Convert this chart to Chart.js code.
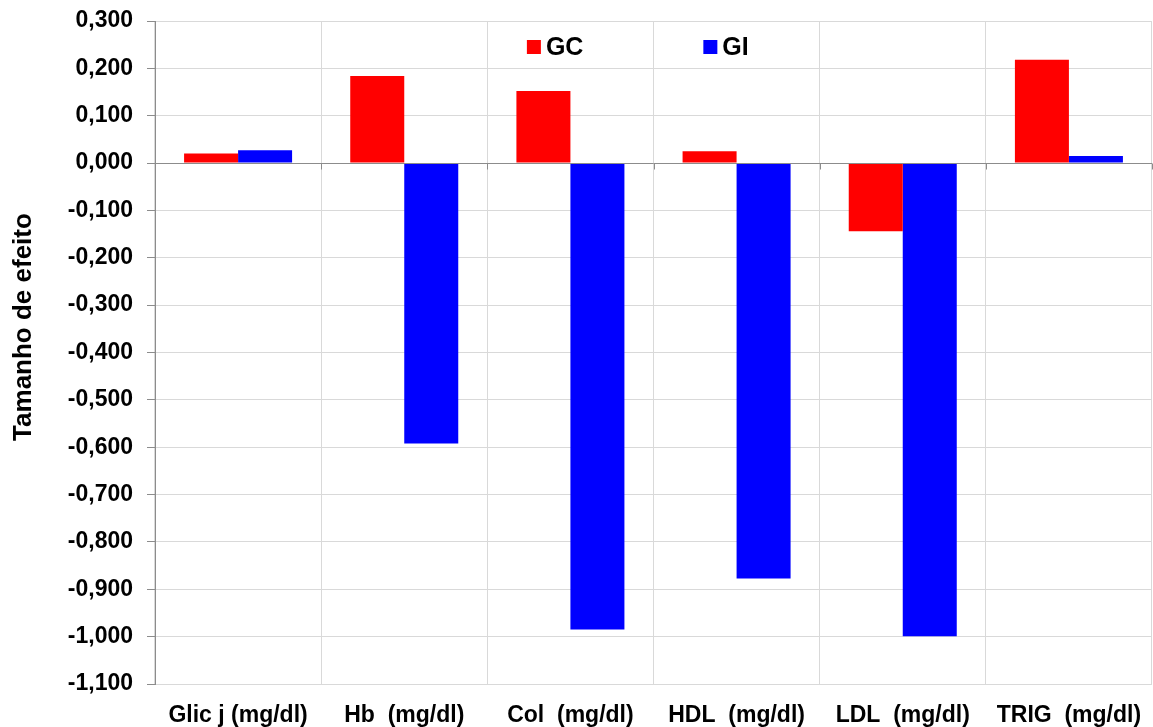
<!DOCTYPE html>
<html>
<head>
<meta charset="utf-8">
<title>Tamanho de efeito</title>
<script src="https://cdn.jsdelivr.net/npm/chart.js@4.4.1/dist/chart.umd.min.js"></script>
<style>
  html, body { margin: 0; padding: 0; background: #ffffff; }
  #wrap { width: 1153px; height: 727px; }
</style>
</head>
<body>
<div id="wrap"><canvas id="c" width="1153" height="727"></canvas></div>
<script>
// Categories and effect sizes per group
const categories = ['Glic j (mg/dl)', 'Hb  (mg/dl)', 'Col  (mg/dl)', 'HDL  (mg/dl)', 'LDL  (mg/dl)', 'TRIG  (mg/dl)'];
const gcValues = [0.020, 0.184, 0.152, 0.025, -0.144, 0.218];
const giValues = [0.027, -0.592, -0.985, -0.877, -0.999, 0.015];
const seriesNames = ['GC', 'GI'];
const seriesColors = ['#ff0000', '#0000ff'];
const yAxisTitle = 'Tamanho de efeito';

const FONT = '"Liberation Sans", Arial, Helvetica, sans-serif';

// Format ticks with a decimal comma and three decimals
function fmt(v) {
  const r = Math.round(v * 1000) / 1000;
  return r.toFixed(3).replace('.', ',');
}

// Zero axis line with small tick marks at category boundaries
const zeroAxis = {
  id: 'zeroAxis',
  afterDatasetsDraw(chart) {
    const { ctx, chartArea, scales } = chart;
    const y0 = Math.round(scales.y.getPixelForValue(0)) + 0.5;
    ctx.save();
    ctx.strokeStyle = '#8c8c8c';
    ctx.lineWidth = 1;
    ctx.beginPath();
    ctx.moveTo(chartArea.left, y0);
    ctx.lineTo(chartArea.right, y0);
    const n = categories.length;
    const step = (chartArea.right - chartArea.left) / n;
    for (let i = 0; i <= n; i++) {
      const x = Math.round(chartArea.left + i * step) + 0.5;
      ctx.moveTo(x, y0);
      ctx.lineTo(x, y0 + 6);
    }
    ctx.stroke();
    ctx.restore();
  }
};

// Legend drawn inside the plot area
const innerLegend = {
  id: 'innerLegend',
  afterDraw(chart) {
    const { ctx, chartArea } = chart;
    const w = chartArea.right - chartArea.left;
    const starts = [chartArea.left + w * 0.373, chartArea.left + w * 0.550];
    const yMid = chartArea.top + 26;
    ctx.save();
    ctx.font = 'bold 25px ' + FONT;
    ctx.textBaseline = 'middle';
    ctx.textAlign = 'left';
    chart.data.datasets.forEach((ds, i) => {
      const x = starts[i];
      ctx.fillStyle = ds.backgroundColor;
      ctx.fillRect(x, yMid - 7, 14, 14);
      ctx.fillStyle = '#000000';
      ctx.fillText(ds.label, x + 19, yMid + 1);
    });
    ctx.restore();
  }
};

// Rotated axis title on the left
const yTitle = {
  id: 'yTitle',
  afterDraw(chart) {
    const { ctx } = chart;
    ctx.save();
    ctx.translate(24, 327);
    ctx.rotate(-Math.PI / 2);
    ctx.font = 'bold 26px ' + FONT;
    ctx.fillStyle = '#000000';
    ctx.textAlign = 'center';
    ctx.textBaseline = 'middle';
    ctx.fillText(yAxisTitle, 0, 0);
    ctx.restore();
  }
};

new Chart(document.getElementById('c'), {
  type: 'bar',
  data: {
    labels: categories,
    datasets: [
      { label: seriesNames[0], data: gcValues, backgroundColor: seriesColors[0], borderWidth: 0 },
      { label: seriesNames[1], data: giValues, backgroundColor: seriesColors[1], borderWidth: 0 }
    ]
  },
  options: {
    responsive: false,
    devicePixelRatio: 1,
    animation: false,
    categoryPercentage: 0.65,
    barPercentage: 1.0,
    layout: { padding: { top: 21, right: 1, left: 0, bottom: 0 } },
    plugins: {
      legend: { display: false },
      tooltip: { enabled: false },
      title: { display: false }
    },
    scales: {
      x: {
        grid: {
          offset: true,
          color: '#d9d9d9',
          lineWidth: 1,
          drawTicks: false
        },
        border: { display: false },
        ticks: {
          color: '#000000',
          font: { family: FONT, size: 23, weight: 'bold' },
          padding: 18,
          maxRotation: 0,
          autoSkip: false
        },
        afterFit(scale) {
          scale.height = 43;
          scale.paddingLeft = 0;
          scale.paddingRight = 0;
        }
      },
      y: {
        min: -1.1,
        max: 0.3,
        grid: {
          color: '#d9d9d9',
          lineWidth: 1,
          tickColor: '#8c8c8c',
          tickLength: 8
        },
        border: { display: true, color: '#8c8c8c', width: 1 },
        ticks: {
          stepSize: 0.1,
          color: '#000000',
          font: { family: FONT, size: 23, weight: 'bold' },
          padding: 14,
          callback: (v) => fmt(v)
        },
        afterFit(scale) {
          scale.width = 155;
          scale.paddingTop = 0;
          scale.paddingBottom = 0;
        }
      }
    }
  },
  plugins: [zeroAxis, innerLegend, yTitle]
});
</script>
</body>
</html>
